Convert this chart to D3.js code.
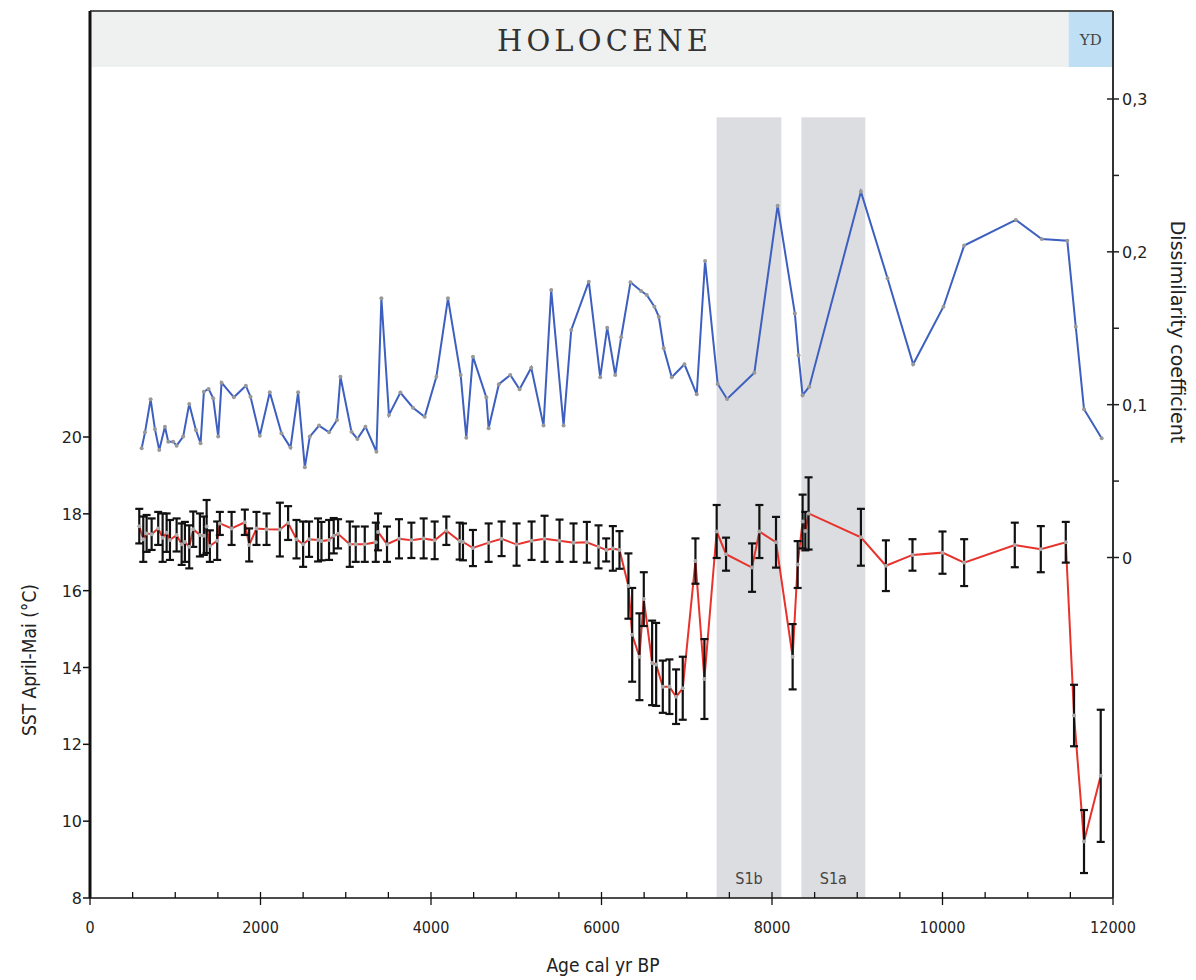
<!DOCTYPE html>
<html>
<head>
<meta charset="utf-8">
<script src="https://cdn.jsdelivr.net/npm/d3@7"></script>
<style>
  body { margin: 0; background: #fff; }
  .tickLabel { font-family: "DejaVu Sans", Verdana, sans-serif; font-size: 16px; fill: #222; }
  .xLabel { font-family: "DejaVu Sans Condensed", "DejaVu Sans", sans-serif; font-size: 16px; fill: #222; }
  .axisTitle { font-family: "DejaVu Sans Condensed", "DejaVu Sans", sans-serif; font-size: 18px; fill: #222; }
</style>
</head>
<body>
<div id="chart"></div>
<script>
// dissimilarity coefficient (blue)
const dissAge = [606, 645, 711, 762, 812, 879, 918, 976, 1016, 1093, 1164, 1242, 1297, 1336, 1391, 1445, 1504, 1543, 1688, 1828,
  1883, 1992, 2109, 2246, 2352, 2441, 2520, 2578, 2687, 2804, 2898, 2938, 3067, 3137, 3231, 3360, 3418, 3507, 3641, 3789,
  3926, 4063, 4199, 4348, 4414, 4492, 4649, 4676, 4796, 4930, 5039, 5176, 5320, 5410, 5555, 5645, 5851, 5985, 6067, 6161,
  6231, 6340, 6465, 6531, 6621, 6672, 6730, 6824, 6973, 7117, 7215, 7363, 7473, 7793, 8066, 8268, 8311, 8359, 8438, 9043,
  9355, 9656, 10011, 10254, 10860, 11164, 11464, 11563, 11660, 11867];
const dissValue = [0.0715, 0.0819, 0.1035, 0.0839, 0.0704, 0.0856, 0.0758, 0.0758, 0.0732, 0.0791, 0.1005, 0.0834, 0.0747, 0.1085, 0.1103, 0.1042, 0.0791, 0.1144, 0.1048, 0.1124,
  0.1052, 0.0797, 0.1081, 0.0813, 0.0719, 0.1081, 0.0590, 0.0791, 0.0863, 0.0819, 0.0900, 0.1183, 0.0823, 0.0776, 0.0856, 0.0692, 0.1696, 0.0933, 0.1079, 0.0980,
  0.0921, 0.1183, 0.1696, 0.1194, 0.0784, 0.1314, 0.1048, 0.0846, 0.1134, 0.1194, 0.1101, 0.1242, 0.0863, 0.1751, 0.0863, 0.1489, 0.1805, 0.1179, 0.1504, 0.1194,
  0.1441, 0.1801, 0.1744, 0.1718, 0.1641, 0.1576, 0.1369, 0.1179, 0.1264, 0.1068, 0.1940, 0.1135, 0.1037, 0.1209, 0.2302, 0.1597, 0.1323, 0.1062, 0.1118, 0.2394,
  0.1827, 0.1264, 0.1641, 0.2041, 0.2209, 0.2084, 0.2073, 0.1510, 0.0970, 0.0780];

// SST April-Mai (red) with error bars
const sstAge = [578, 625, 664, 723, 800, 852, 899, 938, 1016, 1075, 1113, 1164, 1211, 1289, 1336, 1368, 1406, 1492, 1523, 1661,
  1816, 1867, 1953, 2071, 2227, 2324, 2422, 2500, 2570, 2675, 2715, 2804, 2859, 2910, 3047, 3117, 3223, 3352, 3379, 3484,
  3625, 3770, 3914, 4043, 4180, 4336, 4375, 4492, 4676, 4828, 5004, 5180, 5332, 5508, 5672, 5828, 5965, 6055, 6133, 6211,
  6316, 6360, 6445, 6496, 6594, 6641, 6719, 6797, 6875, 6953, 7102, 7207, 7351, 7461, 7766, 7852, 8047, 8242, 8301, 8359,
  8391, 8429, 9043, 9336, 9648, 10000, 10254, 10848, 11153, 11446, 11543, 11660, 11856];
const sstValue = [17.68, 17.34, 17.49, 17.47, 17.62, 17.38, 17.51, 17.32, 17.45, 17.21, 17.27, 17.14, 17.6, 17.45, 17.43, 17.67, 17.16, 17.3, 17.75, 17.62,
  17.78, 17.19, 17.62, 17.6, 17.59, 17.76, 17.34, 17.21, 17.34, 17.32, 17.29, 17.32, 17.43, 17.48, 17.21, 17.21, 17.21, 17.26, 17.53, 17.21,
  17.35, 17.31, 17.36, 17.31, 17.56, 17.29, 17.27, 17.11, 17.25, 17.35, 17.2, 17.3, 17.35, 17.3, 17.25, 17.26, 17.14, 17.06, 17.1, 17.06,
  16.12, 14.85, 14.28, 15.78, 14.12, 14.08, 13.5, 13.5, 13.24, 13.46, 16.77, 13.7, 17.54, 16.95, 16.6, 17.54, 17.26, 14.28, 16.68, 17.8,
  17.55, 18.01, 17.39, 16.65, 16.93, 16.99, 16.73, 17.19, 17.08, 17.26, 12.75, 9.47, 11.18];
const sstError = [0.45, 0.59, 0.48, 0.41, 0.43, 0.63, 0.5, 0.52, 0.43, 0.54, 0.52, 0.56, 0.46, 0.56, 0.5, 0.69, 0.41, 0.5, 0.3, 0.43,
  0.33, 0.43, 0.43, 0.41, 0.7, 0.44, 0.5, 0.59, 0.46, 0.56, 0.5, 0.52, 0.46, 0.38, 0.59, 0.46, 0.46, 0.51, 0.48, 0.46,
  0.51, 0.46, 0.52, 0.49, 0.37, 0.48, 0.48, 0.47, 0.5, 0.45, 0.55, 0.5, 0.6, 0.55, 0.5, 0.53, 0.56, 0.3, 0.58, 0.49,
  0.85, 1.22, 1.13, 0.7, 1.1, 1.08, 0.68, 0.71, 0.71, 0.82, 0.59, 1.04, 0.69, 0.43, 0.63, 0.69, 0.66, 0.85, 0.61, 0.7,
  0.5, 0.94, 0.74, 0.66, 0.41, 0.55, 0.61, 0.58, 0.6, 0.53, 0.8, 0.82, 1.72];

// shaded events and period header
const eventName = ['S1b', 'S1a'], eventStart = [7350, 8345], eventEnd = [8110, 9095];
const periodName = ['HOLOCENE', 'YD'], periodStart = [0, 11480], periodEnd = [11480, 12000];

// ticks
const xTicks = [0, 2000, 4000, 6000, 8000, 10000, 12000];
const xMinorTicks = d3.range(0, 12001, 500);
const sstTicks = [8, 10, 12, 14, 16, 18, 20];
const dissTicks = [0, 0.1, 0.2, 0.3];
const dissMinorTicks = [0.05, 0.15, 0.25];

const width = 1196, height = 980;

let svg = d3.select('#chart')
            .append('svg')
            .attr('width', width)
            .attr('height', height);

let x = d3.scaleLinear().domain([0, 12000]).range([90, 1113]);
let ySst = d3.scaleLinear().domain([8, 20]).range([898, 437]);
let yDiss = d3.scaleLinear().domain([0, 0.3]).range([557.5, 99]);
const plotTop = 11, headerBottom = 67, bandTop = 0.288;

// header band
svg.selectAll('rect.period')
   .data(periodName)
   .enter()
   .append('rect')
   .attr('x', (d, i) => x(periodStart[i]))
   .attr('y', plotTop)
   .attr('width', (d, i) => x(periodEnd[i]) - x(periodStart[i]))
   .attr('height', headerBottom - plotTop)
   .style('fill', (d, i) => i == 0 ? '#eff1f0' : '#bfdff5');

svg.append('text')
   .attr('x', 497)
   .attr('y', 51)
   .attr('textLength', 211)
   .attr('lengthAdjust', 'spacing')
   .style('font-family', '"DejaVu Serif", serif')
   .style('font-size', '29px')
   .style('fill', '#333')
   .text(periodName[0]);

svg.append('text')
   .attr('x', (x(periodStart[1]) + x(periodEnd[1])) / 2)
   .attr('y', 45)
   .style('text-anchor', 'middle')
   .style('font-family', '"DejaVu Serif", serif')
   .style('font-size', '15px')
   .style('fill', '#444')
   .text(periodName[1]);

// grey event bands
svg.selectAll('rect.event')
   .data(eventName)
   .enter()
   .append('rect')
   .attr('class', 'event')
   .attr('x', (d, i) => x(eventStart[i]))
   .attr('y', yDiss(bandTop))
   .attr('width', (d, i) => x(eventEnd[i]) - x(eventStart[i]))
   .attr('height', (d, i) => ySst(8) - yDiss(bandTop))
   .style('fill', '#dcdde0');

svg.selectAll('text.event')
   .data(eventName)
   .enter()
   .append('text')
   .attr('class', 'event')
   .attr('x', (d, i) => (x(eventStart[i]) + x(eventEnd[i])) / 2)
   .attr('y', 884)
   .style('text-anchor', 'middle')
   .style('font-family', '"DejaVu Sans Condensed", "DejaVu Sans", sans-serif')
   .style('font-size', '16px')
   .style('fill', '#444')
   .text(d => d);

// frame
svg.append('line')
   .attr('x1', x(0)).attr('x2', x(12000))
   .attr('y1', plotTop).attr('y2', plotTop)
   .style('stroke', '#555').style('stroke-width', 2);

// blue dissimilarity line
let dissData = dissAge.map((a, i) => ({age: a, value: dissValue[i]}));

svg.append('path')
   .datum(dissData)
   .attr('d', d3.line().x(d => x(d.age)).y(d => yDiss(d.value)))
   .style('fill', 'none')
   .style('stroke', '#3d5fbf')
   .style('stroke-width', 2);

svg.selectAll('circle.diss')
   .data(dissData)
   .enter()
   .append('circle')
   .attr('class', 'diss')
   .attr('cx', d => x(d.age))
   .attr('cy', d => yDiss(d.value))
   .attr('r', 2)
   .style('fill', '#999');

// red SST line + error bars
let sstData = sstAge.map((a, i) => ({age: a, value: sstValue[i], err: sstError[i]}));

svg.append('path')
   .datum(sstData)
   .attr('d', d3.line().x(d => x(d.age)).y(d => ySst(d.value)))
   .style('fill', 'none')
   .style('stroke', '#e8322c')
   .style('stroke-width', 2);

let bars = svg.selectAll('g.errBar')
              .data(sstData)
              .enter()
              .append('g')
              .attr('class', 'errBar')
              .style('stroke', '#111')
              .style('stroke-width', 2.2);

bars.append('line')
    .attr('x1', d => x(d.age)).attr('x2', d => x(d.age))
    .attr('y1', d => ySst(d.value + d.err)).attr('y2', d => ySst(d.value - d.err));
bars.append('line')
    .attr('x1', d => x(d.age) - 4).attr('x2', d => x(d.age) + 4)
    .attr('y1', d => ySst(d.value + d.err)).attr('y2', d => ySst(d.value + d.err));
bars.append('line')
    .attr('x1', d => x(d.age) - 4).attr('x2', d => x(d.age) + 4)
    .attr('y1', d => ySst(d.value - d.err)).attr('y2', d => ySst(d.value - d.err));

svg.selectAll('circle.sst')
   .data(sstData)
   .enter()
   .append('circle')
   .attr('class', 'sst')
   .attr('cx', d => x(d.age))
   .attr('cy', d => ySst(d.value))
   .attr('r', 2)
   .style('fill', '#aaa');

// x axis: major ticks crossing, minor ticks inside
svg.append('line')
   .attr('x1', x(0)).attr('x2', x(12000))
   .attr('y1', ySst(8)).attr('y2', ySst(8))
   .style('stroke', '#111').style('stroke-width', 1.5);

svg.selectAll('line.xMinor')
   .data(xMinorTicks)
   .enter()
   .append('line')
   .attr('x1', d => x(d)).attr('x2', d => x(d))
   .attr('y1', d => ySst(8) - 6).attr('y2', d => ySst(8) + (xTicks.includes(d) ? 7 : 0))
   .style('stroke', '#111').style('stroke-width', 1.3);

svg.selectAll('text.xLabel')
   .data(xTicks)
   .enter()
   .append('text')
   .attr('class', 'xLabel')
   .attr('x', d => x(d))
   .attr('y', 933)
   .style('text-anchor', 'middle')
   .text(d => d);

// left SST axis
svg.append('line')
   .attr('x1', x(0)).attr('x2', x(0))
   .attr('y1', plotTop).attr('y2', ySst(8))
   .style('stroke', '#111').style('stroke-width', 3);

svg.selectAll('line.sstTick')
   .data(sstTicks)
   .enter()
   .append('line')
   .attr('x1', x(0) - 7).attr('x2', x(0))
   .attr('y1', d => ySst(d)).attr('y2', d => ySst(d))
   .style('stroke', '#111').style('stroke-width', 1.5);

svg.selectAll('text.sstLabel')
   .data(sstTicks)
   .enter()
   .append('text')
   .attr('class', 'tickLabel')
   .attr('x', x(0) - 8)
   .attr('y', d => ySst(d) + 6)
   .style('text-anchor', 'end')
   .text(d => d);

// right dissimilarity axis
svg.append('line')
   .attr('x1', x(12000)).attr('x2', x(12000))
   .attr('y1', plotTop).attr('y2', ySst(8))
   .style('stroke', '#333').style('stroke-width', 2);

svg.selectAll('line.dissTick')
   .data(dissTicks.concat(dissMinorTicks))
   .enter()
   .append('line')
   .attr('x1', d => x(12000) - (dissTicks.includes(d) ? 6 : 0)).attr('x2', x(12000) + 6)
   .attr('y1', d => yDiss(d)).attr('y2', d => yDiss(d))
   .style('stroke', '#222').style('stroke-width', 1.5);

svg.selectAll('text.dissLabel')
   .data(dissTicks)
   .enter()
   .append('text')
   .attr('class', 'tickLabel')
   .attr('x', x(12000) + 9)
   .attr('y', d => yDiss(d) + 6)
   .text(d => d == 0 ? '0' : d3.format('.1f')(d).replace('.', ','));

// axis titles
svg.append('text')
   .attr('class', 'axisTitle')
   .attr('transform', 'translate(36, 660) rotate(-90)')
   .style('text-anchor', 'middle')
   .style('font-size', '19px')
   .text('SST April-Mai (°C)');

svg.append('text')
   .attr('class', 'axisTitle')
   .attr('transform', 'translate(1171, 332) rotate(90)')
   .style('text-anchor', 'middle')
   .style('font-family', '"DejaVu Sans", sans-serif')
   .style('font-size', '19px')
   .text('Dissimilarity coefficient');

svg.append('text')
   .attr('class', 'axisTitle')
   .attr('x', 603)
   .attr('y', 972)
   .style('text-anchor', 'middle')
   .style('font-size', '19px')
   .text('Age cal yr BP');
</script>
</body>
</html>
